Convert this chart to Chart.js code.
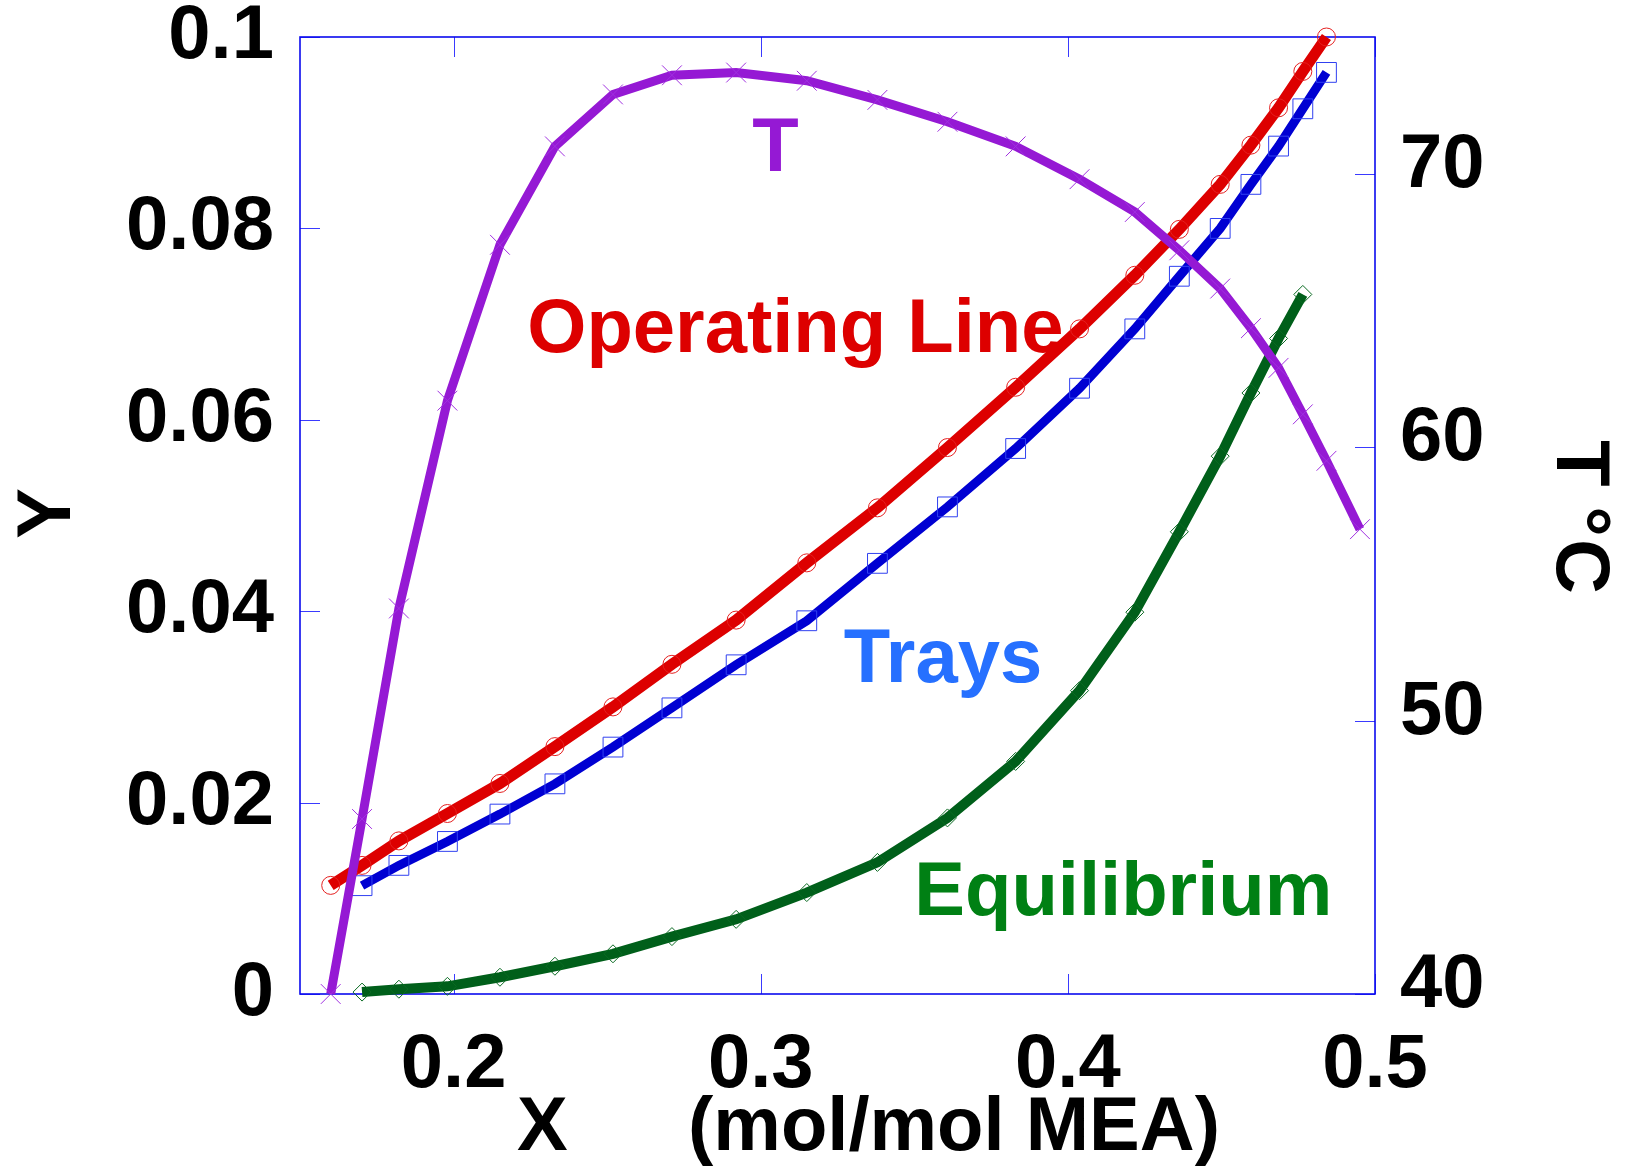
<!DOCTYPE html>
<html lang="en">
<head>
    <meta charset="UTF-8">
    <script src="https://cdnjs.cloudflare.com/ajax/libs/Chart.js/4.4.1/chart.umd.min.js"></script>
    <style>
        body {
            margin: 0;
            background: #fff;
        }

        canvas {
            display: block;
        }
    </style>
    <title>Absorber Stages</title>
</head>
<body>
    <canvas id="chartCanvas" width="1634" height="1166"></canvas>

    <script>
        // operating line (liquid loading X vs gas Y)
        const xOperating = [0.1600, 0.1702, 0.1822, 0.1980, 0.2151, 0.2330, 0.2519, 0.2711, 0.2920, 0.3150, 0.3380,
            0.3608, 0.3830, 0.4038, 0.4218, 0.4363, 0.4496, 0.4596, 0.4686, 0.4765, 0.4842];
        const yOperating = [0.01135, 0.01344, 0.0160, 0.01886, 0.0220, 0.02585, 0.0300, 0.03445, 0.03907, 0.04505, 0.0508,
            0.0571, 0.0634, 0.0695, 0.0751, 0.0799, 0.0846, 0.0887, 0.0926, 0.0964, 0.1000];

        // trays
        const xTrays = [0.1702, 0.1822, 0.1980, 0.2151, 0.2330, 0.2519, 0.2711, 0.2920, 0.3150, 0.3380,
            0.3608, 0.3830, 0.4038, 0.4218, 0.4363, 0.4496, 0.4596, 0.4686, 0.4765, 0.4842];
        const yTrays = [0.01132, 0.01344, 0.01594, 0.0188, 0.02196, 0.0258, 0.0299, 0.0344, 0.0390, 0.0450,
            0.0509, 0.0570, 0.0633, 0.0695, 0.0750, 0.0800, 0.0846, 0.0886, 0.0925, 0.0963];

        // equilibrium curve
        const xEquilibrium = [0.1702, 0.1822, 0.1980, 0.2151, 0.2330, 0.2519, 0.2711, 0.2920, 0.3150, 0.3380,
            0.3608, 0.3830, 0.4038, 0.4218, 0.4363, 0.4496, 0.4596, 0.4686, 0.4765];
        const yEquilibrium = [0.0002, 0.0005, 0.0008, 0.00175, 0.0029, 0.0042, 0.0060, 0.0078, 0.0106, 0.01375,
            0.0184, 0.0243, 0.0317, 0.0399, 0.0483, 0.0562, 0.0628, 0.0685, 0.0731];

        // temperature profile (right axis, deg C)
        const xTemperature = [0.1600, 0.1702, 0.1822, 0.1980, 0.2151, 0.2330, 0.2519, 0.2711, 0.2920, 0.3150, 0.3380,
            0.3608, 0.3830, 0.4038, 0.4218, 0.4363, 0.4496, 0.4596, 0.4686, 0.4765, 0.4842, 0.4951];
        const tTemperature = [40.0, 46.4, 54.1, 61.7, 67.4, 71.0, 72.9, 73.6, 73.7, 73.4, 72.7,
            71.9, 71.0, 69.8, 68.6, 67.2, 65.8, 64.35, 62.9, 61.2, 59.5, 57.0];

        const xTicks = [0.2, 0.3, 0.4, 0.5];
        const xTickLabels = ['0.2', '0.3', '0.4', '0.5'];
        const yTicks = [0, 0.02, 0.04, 0.06, 0.08, 0.1];
        const yTickLabels = ['0', '0.02', '0.04', '0.06', '0.08', '0.1'];
        const tTicks = [40, 50, 60, 70];
        const tTickLabels = ['40', '50', '60', '70'];

        const FONT = '"Liberation Sans", Arial, sans-serif';
        const tickFont = { family: FONT, size: 76, weight: 'bold', lineHeight: 0.9 };

        function toPoints(xs, ys) {
            return xs.map((x, i) => ({ x: x, y: ys[i] }));
        }

        // keep the plot box fixed: no extra room for overhanging tick labels
        function fixSize(prop, size) {
            return s => {
                s[prop] = size;
                s.paddingTop = 0;
                s.paddingBottom = 0;
                s.paddingLeft = 0;
                s.paddingRight = 0;
            };
        }

        // frame + inward tick marks
        const framePlugin = {
            id: 'frame',
            beforeDatasetsDraw(chart) {
                const { ctx, chartArea: a, scales } = chart;
                const len = 20;
                ctx.save();
                ctx.strokeStyle = '#3a3aff';
                ctx.lineWidth = 1;
                ctx.beginPath();
                xTicks.forEach(v => {
                    const px = Math.round(scales.x.getPixelForValue(v)) + 0.5;
                    ctx.moveTo(px, a.bottom); ctx.lineTo(px, a.bottom - len);
                    ctx.moveTo(px, a.top); ctx.lineTo(px, a.top + len);
                });
                yTicks.forEach(v => {
                    const py = Math.round(scales.y.getPixelForValue(v)) + 0.5;
                    ctx.moveTo(a.left, py); ctx.lineTo(a.left + len, py);
                });
                tTicks.forEach(v => {
                    const py = Math.round(scales.yT.getPixelForValue(v)) + 0.5;
                    ctx.moveTo(a.right, py); ctx.lineTo(a.right - len, py);
                });
                ctx.stroke();
                ctx.strokeStyle = '#0a0aee';
                ctx.lineWidth = 1.6;
                ctx.strokeRect(a.left, a.top, a.right - a.left, a.bottom - a.top);
                ctx.restore();
            }
        };

        // curve names inside the plot
        const curveLabels = [
            { text: 'T', x: 0.3048, y: 0.0860, color: '#9519d4', align: 'center' },
            { text: 'Operating Line', x: 0.2240, y: 0.0671, color: '#dd0000', align: 'left' },
            { text: 'Trays', x: 0.3270, y: 0.0326, color: '#2670ff', align: 'left' },
            { text: 'Equilibrium', x: 0.3500, y: 0.0083, color: '#008014', align: 'left' }
        ];

        const labelPlugin = {
            id: 'labels',
            afterDraw(chart) {
                const { ctx, chartArea: a, scales } = chart;
                const midY = (a.top + a.bottom) / 2;
                ctx.save();
                ctx.font = 'bold 76px ' + FONT;
                ctx.textBaseline = 'alphabetic';
                curveLabels.forEach(l => {
                    ctx.fillStyle = l.color;
                    ctx.textAlign = l.align;
                    ctx.fillText(l.text, scales.x.getPixelForValue(l.x), scales.y.getPixelForValue(l.y));
                });

                // axis titles
                ctx.fillStyle = '#000';
                ctx.textAlign = 'left';
                ctx.fillText('X', 517, 1150);
                ctx.fillText('(mol/mol MEA)', 688, 1150);

                ctx.textAlign = 'center';
                ctx.save();
                ctx.translate(70, midY - 2);
                ctx.rotate(-Math.PI / 2);
                ctx.fillText('Y', 0, 0);
                ctx.restore();

                // right title, glyphs spaced a little wider
                ctx.save();
                ctx.translate(1557, midY);
                ctx.rotate(Math.PI / 2);
                ctx.fillText('T', -52, 0);
                ctx.fillText('°', 6, 0);
                ctx.fillText('C', 51, 0);
                ctx.restore();
                ctx.restore();
            }
        };

        const ctx = document.getElementById('chartCanvas').getContext('2d');
        const chart = new Chart(ctx, {
            type: 'line',
            data: {
                datasets: [
                    {
                        label: 'T',
                        data: toPoints(xTemperature, tTemperature),
                        yAxisID: 'yT',
                        borderColor: '#9519d4',
                        borderWidth: 9,
                        pointStyle: 'crossRot',
                        pointRadius: 14,
                        pointBorderWidth: 1,
                        pointBorderColor: '#a030e0',
                        order: 0
                    },
                    {
                        label: 'Operating Line',
                        data: toPoints(xOperating, yOperating),
                        yAxisID: 'y',
                        borderColor: '#dd0000',
                        borderWidth: 11,
                        pointStyle: 'circle',
                        pointRadius: 9,
                        pointBorderWidth: 1,
                        pointBorderColor: '#e42020',
                        pointBackgroundColor: 'rgba(0,0,0,0)',
                        order: 1
                    },
                    {
                        label: 'Trays',
                        data: toPoints(xTrays, yTrays),
                        yAxisID: 'y',
                        borderColor: '#0000d2',
                        borderWidth: 9,
                        pointStyle: 'rect',
                        pointRadius: 14,
                        pointBorderWidth: 1,
                        pointBorderColor: '#3040f0',
                        pointBackgroundColor: 'rgba(0,0,0,0)',
                        order: 2
                    },
                    {
                        label: 'Equilibrium',
                        data: toPoints(xEquilibrium, yEquilibrium),
                        yAxisID: 'y',
                        borderColor: '#005f1a',
                        borderWidth: 10,
                        pointStyle: 'rectRot',
                        pointRadius: 9,
                        pointBorderWidth: 1,
                        pointBorderColor: '#0a6a22',
                        pointBackgroundColor: 'rgba(0,0,0,0)',
                        order: 3
                    }
                ].map(d => Object.assign({ fill: false, tension: 0, clip: false, pointHoverRadius: 0 }, d))
            },
            options: {
                responsive: false,
                animation: false,
                events: [],
                layout: { padding: { top: 37, left: 0, right: 0, bottom: 0 } },
                plugins: {
                    legend: { display: false },
                    tooltip: { enabled: false }
                },
                scales: {
                    x: {
                        type: 'linear',
                        min: 0.15,
                        max: 0.5,
                        afterBuildTicks: s => { s.ticks = xTicks.map(v => ({ value: v })); },
                        afterFit: fixSize('height', 172),
                        grid: { display: false, drawTicks: false },
                        border: { display: false },
                        ticks: {
                            font: tickFont,
                            color: '#000',
                            padding: 38,
                            maxRotation: 0,
                            autoSkip: false,
                            callback: (v, i) => xTickLabels[i]
                        }
                    },
                    y: {
                        type: 'linear',
                        position: 'left',
                        min: 0,
                        max: 0.1,
                        afterBuildTicks: s => { s.ticks = yTicks.map(v => ({ value: v })); },
                        afterFit: fixSize('width', 300),
                        grid: { display: false, drawTicks: false },
                        border: { display: false },
                        ticks: {
                            font: tickFont,
                            color: '#000',
                            padding: 26,
                            autoSkip: false,
                            callback: (v, i) => yTickLabels[i]
                        }
                    },
                    yT: {
                        type: 'linear',
                        position: 'right',
                        min: 40,
                        max: 75,
                        afterBuildTicks: s => { s.ticks = tTicks.map(v => ({ value: v })); },
                        afterFit: fixSize('width', 259),
                        grid: { display: false, drawTicks: false },
                        border: { display: false },
                        ticks: {
                            font: tickFont,
                            color: '#000',
                            padding: 25,
                            labelOffset: -8,
                            autoSkip: false,
                            callback: (v, i) => tTickLabels[i]
                        }
                    }
                }
            },
            plugins: [framePlugin, labelPlugin]
        });
    </script>
</body>
</html>
